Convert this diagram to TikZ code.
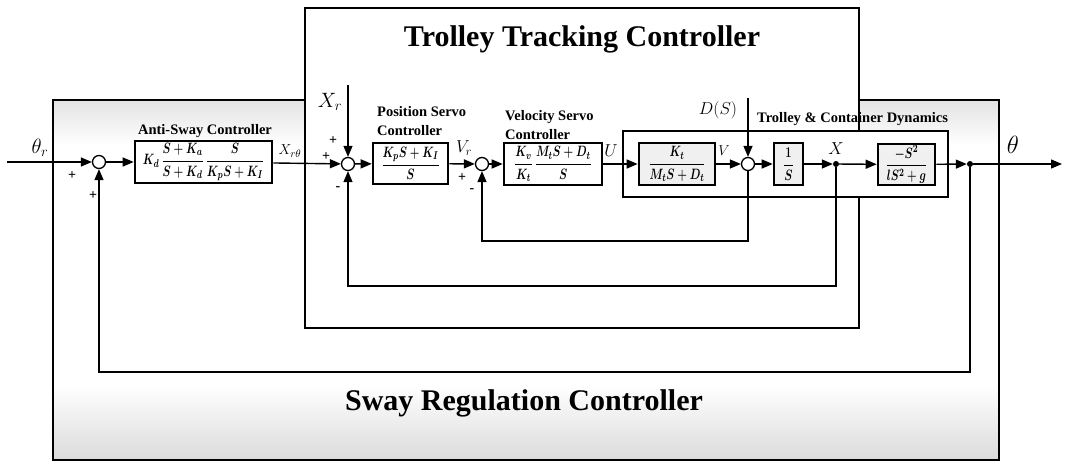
\documentclass[tikz,border=0pt]{standalone}
\usepackage{fontspec}
\setmainfont{Liberation Serif}
\usetikzlibrary{arrows.meta}
\newcommand{\blkmath}[1]{\scalebox{0.92}[1.25]{$\displaystyle #1$}}
\begin{document}
\begin{tikzpicture}[x=1pt,y=-1pt,
  blk/.style={draw, line width=2.6pt, fill=white, inner sep=1pt, font=\fontsize{13}{15}\selectfont\boldmath},
  dblk/.style={blk, fill=gray!12},
  sumc/.style={circle, draw, line width=1.3pt, minimum size=13pt, inner sep=0pt, fill=white},
  sig/.style={line width=1.4pt, -{Triangle[length=11pt,width=9pt]}},
  dotn/.style={circle, fill=black, inner sep=0pt, minimum size=6pt},
  lbl/.style={font=\fontsize{14.5}{19}\selectfont\bfseries, inner sep=0pt},
  big/.style={font=\fontsize{30}{34}\selectfont\bfseries, inner sep=0pt},
  sgn/.style={font=\fontsize{14}{16}\selectfont\bfseries, inner sep=0pt},
  frame/.style={draw, line width=1.8pt}
]
\useasboundingbox (0,0) rectangle (1065,464);
% sway regulation background shading
\fill[top color=gray!22, bottom color=white] (54,101) rectangle (998,145);
\fill[top color=white, bottom color=gray!28] (54,385) rectangle (998,459);
\node[frame, minimum width=946pt, minimum height=360pt] (sway) at (526,280) {};
% trolley tracking box
\node[frame, fill=white, minimum width=554pt, minimum height=320pt] (track) at (582,168) {};
% trolley & container dynamics box
\node[draw, line width=1.8pt, fill=white, minimum width=325pt, minimum height=66pt] (dyn) at (785.5,164) {};

% titles
\node[big, anchor=base] (ttitle) at (582,46) {Trolley Tracking Controller};
\node[big, anchor=base] (stitle) at (524,410) {Sway Regulation Controller};
\node[lbl, anchor=base] (aslbl) at (205,134) {Anti-Sway Controller};
\node[lbl, anchor=north west, align=left] (pslbl) at (377,106) {Position Servo\\Controller};
\node[lbl, anchor=north west, align=left] (vslbl) at (505,110) {Velocity Servo\\Controller};
\node[lbl, anchor=base west] (dynlbl) at (757,122) {Trolley \& Container Dynamics};

% summing junctions
\node[sumc] (s1) at (99,162) {};
\node[sumc] (s2) at (348,164) {};
\node[sumc] (s3) at (482,164) {};
\node[sumc] (s4) at (748,164) {};

% blocks
\node[blk, minimum width=137pt, minimum height=42pt] (as) at (203.5,162)
  {\blkmath{K_d\,\frac{S+K_a}{S+K_d}\,\frac{S}{K_pS+K_I}}};
\node[blk, minimum width=75pt, minimum height=41pt] (ps) at (410.5,163.5)
  {\blkmath{\frac{K_pS+K_I}{S}}};
\node[blk, minimum width=98pt, minimum height=42pt] (vs) at (553,164)
  {\blkmath{\frac{K_v}{K_t}\,\frac{M_tS+D_t}{S}}};
\node[dblk, minimum width=76pt, minimum height=42pt] (kt) at (677,164)
  {\blkmath{\frac{K_t}{M_tS+D_t}}};
\node[dblk, minimum width=29pt, minimum height=42pt] (is) at (788.5,164)
  {\blkmath{\frac{1}{S}}};
\node[dblk, minimum width=57pt, minimum height=41pt] (pb) at (906.5,164.5)
  {\blkmath{\frac{-S^2}{lS^2+g}}};

% branch points and free ends
\node[dotn] (xd) at (836,164) {};
\node[dotn] (td) at (970,164) {};
\coordinate (start) at (7,162);
\coordinate (xr) at (348,85);
\coordinate (ds) at (748,98);
\coordinate (endp) at (1062,164);
\coordinate (f1) at (748,241);
\coordinate (f2) at (836,286);
\coordinate (f3) at (970,372);

% signal labels
\node[font=\fontsize{21}{24}\selectfont] (thr) at (40,148) {$\theta_r$};
\node[font=\fontsize{15}{18}\selectfont] (xrt) at (290,151) {$X_{r\theta}$};
\node[font=\fontsize{20}{24}\selectfont] (xrl) at (330,102) {$X_r$};
\node[font=\fontsize{18}{20}\selectfont] (vrl) at (464,148) {$V_r$};
\node[font=\fontsize{18}{20}\selectfont] (ul) at (611,151) {$U$};
\node[font=\fontsize{15}{18}\selectfont] (vl) at (724,151) {$V$};
\node[font=\fontsize{17}{20}\selectfont] (dsl) at (718,110) {$D(S)$};
\node[font=\fontsize{16}{18}\selectfont] (xl) at (836,149) {$X$};
\node[font=\fontsize{25}{28}\selectfont] (thl) at (1013,145) {$\theta$};

% signs
\node[sgn] (p1a) at (72,176) {+};
\node[sgn] (p1b) at (93,196) {+};
\node[sgn] (p2a) at (333,141) {+};
\node[sgn] (p2b) at (326,157) {+};
\node[sgn] (m2) at (338,189) {-};
\node[sgn] (p3) at (462,178) {+};
\node[sgn] (m3) at (472,191) {-};

% forward path
\draw[sig] (start) -- (s1);
\draw[sig] (s1) -- (as);
\draw[sig] (as) -- (s2);
\draw[sig] (xr) -- (s2);
\draw[sig] (s2) -- (ps);
\draw[sig] (ps) -- (s3);
\draw[sig] (s3) -- (vs);
\draw[sig] (vs) -- (kt);
\draw[sig] (kt) -- (s4);
\draw[sig] (ds) -- (s4);
\draw[sig] (s4) -- (is);
\draw[sig] (is) -- (xd);
\draw[sig] (xd) -- (pb);
\draw[sig] (pb) -- (td);
\draw[sig] (td) -- (endp);

% feedback loops
\draw[sig] (s4) -- (f1) -| (s3);
\draw[sig] (xd) -- (f2) -| (s2);
\draw[sig] (td) -- (f3) -| (s1);
\end{tikzpicture}
\end{document}
